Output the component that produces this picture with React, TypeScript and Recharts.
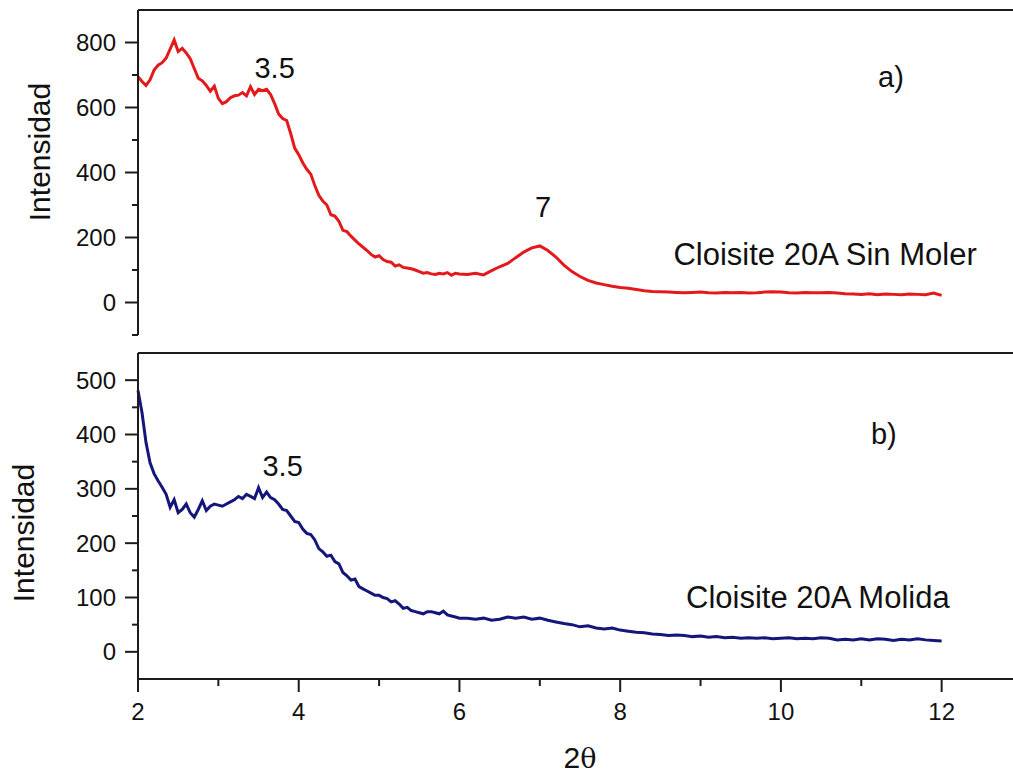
import * as React from "react";

import { Line, LineChart, ReferenceDot, ReferenceLine, XAxis, YAxis } from "recharts";

// 2θ positions (denser sampling where the patterns change fast)
const theta = [
  2.0, 2.05, 2.1, 2.15, 2.2, 2.25, 2.3, 2.35, 2.4, 2.45,
  2.5, 2.55, 2.6, 2.65, 2.7, 2.75, 2.8, 2.85, 2.9, 2.95,
  3.0, 3.05, 3.1, 3.15, 3.2, 3.25, 3.3, 3.35, 3.4, 3.45,
  3.5, 3.55, 3.6, 3.65, 3.7, 3.75, 3.8, 3.85, 3.9, 3.95,
  4.0, 4.05, 4.1, 4.15, 4.2, 4.25, 4.3, 4.35, 4.4, 4.45,
  4.5, 4.55, 4.6, 4.65, 4.7, 4.75, 4.8, 4.85, 4.9, 4.95,
  5.0, 5.05, 5.1, 5.15, 5.2, 5.25, 5.3, 5.35, 5.4, 5.45,
  5.5, 5.55, 5.6, 5.65, 5.7, 5.75, 5.8, 5.85, 5.9, 5.95,
  6.0, 6.1, 6.2, 6.3, 6.4, 6.5, 6.6, 6.7, 6.8, 6.9,
  7.0, 7.1, 7.2, 7.3, 7.4, 7.5, 7.6, 7.7, 7.8, 7.9,
  8.0, 8.1, 8.2, 8.3, 8.4, 8.5, 8.6, 8.7, 8.8, 8.9,
  9.0, 9.1, 9.2, 9.3, 9.4, 9.5, 9.6, 9.7, 9.8, 9.9,
  10.0, 10.1, 10.2, 10.3, 10.4, 10.5, 10.6, 10.7, 10.8, 10.9,
  11.0, 11.1, 11.2, 11.3, 11.4, 11.5, 11.6, 11.7, 11.8, 11.9,
  12.0,
];

// a) Cloisite 20A Sin Moler
const sinMoler = [
  695, 680, 668, 685, 715, 730, 738, 752, 780, 808,
  772, 782, 768, 750, 720, 690, 682, 668, 650, 666,
  628, 612, 618, 630, 636, 638, 646, 636, 664, 640,
  656, 652, 656, 640, 612, 580, 566, 560, 520, 475,
  455, 430, 410, 395, 360, 330, 312, 300, 270, 266,
  250, 222, 218, 204, 192, 180, 170, 160, 148, 140,
  144, 132, 126, 124, 112, 116, 108, 106, 104, 100,
  95, 90, 92, 88, 86, 90, 88, 92, 84, 90,
  88, 86, 90, 85, 98, 110, 120, 138, 155, 168,
  174, 160, 140, 115, 95, 80, 68, 60, 55, 50,
  46, 44, 40, 36, 34, 33, 32, 31, 30, 31,
  32, 30, 29, 31, 30, 31, 29, 30, 32, 33,
  32, 30, 29, 31, 30, 30, 31, 29, 27, 26,
  25, 27, 24, 26, 25, 24, 26, 25, 24, 29,
  22,
];

// b) Cloisite 20A Molida
const molida = [
  481, 440, 385, 348, 328, 315, 303, 290, 266, 280,
  256, 262, 272, 256, 248, 262, 278, 260, 268, 272,
  270, 268, 272, 276, 280, 286, 282, 290, 286, 282,
  302, 284, 294, 284, 280, 272, 262, 260, 250, 240,
  238, 226, 218, 216, 206, 190, 184, 176, 178, 166,
  162, 146, 140, 132, 134, 120, 116, 112, 108, 104,
  104, 100, 98, 92, 94, 88, 80, 82, 76, 74,
  72, 70, 74, 74, 72, 70, 75, 68, 66, 64,
  62, 62, 60, 62, 58, 60, 64, 62, 64, 60,
  62, 58, 55, 52, 50, 46, 48, 44, 42, 44,
  40, 38, 36, 35, 33, 32, 30, 31, 30, 28,
  29, 27, 28, 26, 27, 25, 26, 25, 26, 24,
  25, 26, 24, 25, 24, 26, 25, 22, 23, 22,
  24, 22, 24, 23, 21, 23, 22, 24, 22, 21,
  20,
];

const xTicks = [2, 3, 4, 5, 6, 7, 8, 9, 10, 11, 12];
const xMajor = [2, 4, 6, 8, 10, 12];
const yTicksA = [-100, 0, 100, 200, 300, 400, 500, 600, 700, 800];
const yMajorA = [0, 200, 400, 600, 800];
const yTicksB = [0, 50, 100, 150, 200, 250, 300, 350, 400, 450, 500];
const yMajorB = [0, 100, 200, 300, 400, 500];

const AXIS = "#1c1c1c";
const TEXT = "#111";
const FONT = "'Liberation Sans', Arial, sans-serif";

const YTick = (props: any) => {
  const { x, y, payload, majors } = props;
  const major = majors.includes(payload.value);
  return (
    <g>
      <line x1={x} x2={x - (major ? 13 : 6)} y1={y} y2={y} stroke={AXIS} strokeWidth={2} />
      {major && (
        <text x={x - 22} y={y} dy="0.36em" textAnchor="end" fontSize={24} fill={TEXT} fontFamily={FONT}>
          {payload.value}
        </text>
      )}
    </g>
  );
};

const XTick = (props: any) => {
  const { x, y, payload } = props;
  const major = xMajor.includes(payload.value);
  return (
    <g>
      <line x1={x} x2={x} y1={y} y2={y + (major ? 13 : 7)} stroke={AXIS} strokeWidth={2} />
      {major && (
        <text x={x} y={y + 41} textAnchor="middle" fontSize={24} fill={TEXT} fontFamily={FONT}>
          {payload.value}
        </text>
      )}
    </g>
  );
};

const yTitle = (cx: number, cy: number) => () => (
  <text
    x={cx}
    y={cy}
    transform={`rotate(-90 ${cx} ${cy})`}
    textAnchor="middle"
    dy="0.36em"
    fontSize={30}
    fill={TEXT}
    fontFamily={FONT}
  >
    Intensidad
  </text>
);

const note = (value: string, size = 29) => ({ value, position: "center" as const, fontSize: size, fill: TEXT, fontFamily: FONT });

const App = () => {
  const dataA = theta.map((t, i) => ({ theta: t, counts: sinMoler[i] }));
  const dataB = theta.map((t, i) => ({ theta: t, counts: molida[i] }));

  return (
    <div
      style={{
        position: "absolute",
        left: 0,
        top: 0,
        width: 1013,
        height: 773,
        overflow: "hidden",
        background: "#fff",
        fontFamily: FONT,
      }}
    >
      <div style={{ position: "absolute", left: 0, top: 0 }}>
        <LineChart width={1022} height={340} data={dataA} margin={{ top: 10, right: 0, bottom: 5, left: 0 }}>
          <XAxis dataKey="theta" type="number" domain={[2, 13]} hide />
          <YAxis
            type="number"
            domain={[-100, 900]}
            ticks={yTicksA}
            interval={0}
            width={138}
            tickSize={0}
            tickMargin={0}
            tickLine={false}
            axisLine={{ stroke: AXIS, strokeWidth: 2 }}
            tick={<YTick majors={yMajorA} />}
            label={yTitle(39, 152)}
          />
          <ReferenceLine y={900} stroke={AXIS} strokeWidth={2} />
          <Line
            type="linear"
            dataKey="counts"
            stroke="#e3191c"
            strokeWidth={3}
            dot={false}
            isAnimationActive={false}
          />
          <ReferenceDot x={3.7} y={723} r={0} fill="none" stroke="none" label={note("3.5")} />
          <ReferenceDot x={7.04} y={295} r={0} fill="none" stroke="none" label={note("7")} />
          <ReferenceDot x={11.37} y={695} r={0} fill="none" stroke="none" label={note("a)")} />
          <ReferenceDot x={10.55} y={148} r={0} fill="none" stroke="none" label={note("Cloisite 20A Sin Moler", 31)} />
        </LineChart>
      </div>
      <div style={{ position: "absolute", left: 0, top: 343 }}>
        <LineChart width={1022} height={430} data={dataB} margin={{ top: 10, right: 0, bottom: 0, left: 0 }}>
          <XAxis
            dataKey="theta"
            type="number"
            domain={[2, 13]}
            ticks={xTicks}
            interval={0}
            height={94}
            tickSize={0}
            tickMargin={0}
            tickLine={false}
            axisLine={{ stroke: AXIS, strokeWidth: 2 }}
            tick={<XTick />}
            label={() => (
              <text x={580} y={425} textAnchor="middle" fontSize={30} fill={TEXT} fontFamily={FONT}>
                2<tspan fontFamily="'DejaVu Serif', serif" fontSize={27}>θ</tspan>
              </text>
            )}
          />
          <YAxis
            type="number"
            domain={[-50, 550]}
            ticks={yTicksB}
            interval={0}
            width={138}
            tickSize={0}
            tickMargin={0}
            tickLine={false}
            axisLine={{ stroke: AXIS, strokeWidth: 2 }}
            tick={<YTick majors={yMajorB} />}
            label={yTitle(23, 190)}
          />
          <ReferenceLine y={550} stroke={AXIS} strokeWidth={2} />
          <Line
            type="linear"
            dataKey="counts"
            stroke="#14167a"
            strokeWidth={3}
            dot={false}
            isAnimationActive={false}
          />
          <ReferenceDot x={3.8} y={343} r={0} fill="none" stroke="none" label={note("3.5")} />
          <ReferenceDot x={11.28} y={402} r={0} fill="none" stroke="none" label={note("b)")} />
          <ReferenceDot x={10.46} y={101} r={0} fill="none" stroke="none" label={note("Cloisite 20A Molida", 31)} />
        </LineChart>
      </div>
    </div>
  );
};

export default App;
